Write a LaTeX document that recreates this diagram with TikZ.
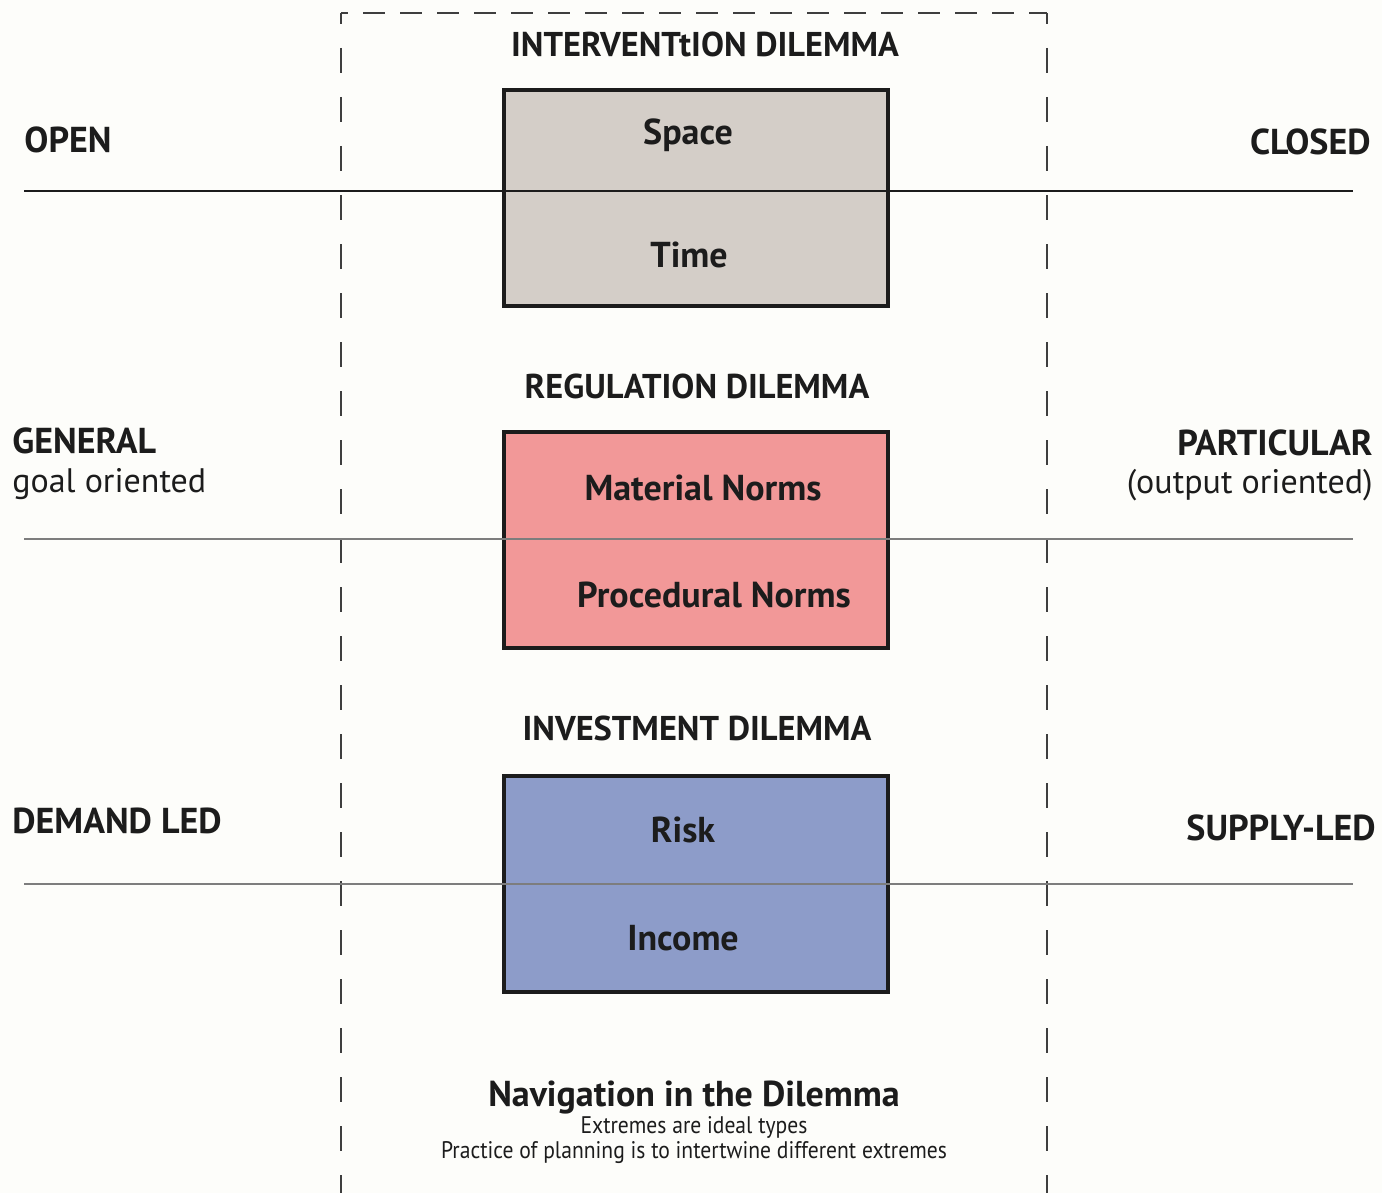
\documentclass[tikz,border=0pt]{standalone}
\usepackage{fontspec}
\setmainfont{PT Sans}
\newfontfamily\narrowfont[FakeStretch=0.9]{PT Sans}
\usepackage{xcolor}
\definecolor{paper}{RGB}{253,253,250}
\definecolor{ink}{RGB}{28,28,28}
\definecolor{spacegrey}{RGB}{212,206,200}
\definecolor{normpink}{RGB}{242,152,152}
\definecolor{riskblue}{RGB}{141,156,201}
\definecolor{rulegrey}{RGB}{125,125,125}
\tikzset{
  every node/.style = {font=\fontsize{17}{20}\selectfont, text=ink, inner sep=0pt}
}
\tikzset{
  heading/.style = {font=\bfseries\fontsize{17.2}{20}\selectfont, anchor=base}
}
\tikzset{
  side label/.style = {font=\bfseries\fontsize{18}{21}\selectfont}
}
\tikzset{
  dilemma box/.style = {draw=ink, line width=2pt, minimum width=192pt, minimum height=108pt}
}
\tikzset{
  box item/.style = {font=\bfseries\fontsize{18}{21}\selectfont, anchor=base}
}
\tikzset{
  frame dash/.style = {draw=ink!85, line width=1.4pt}
}
\newcommand{\divider}[3]{
  \draw[#3] (24,#1) coordinate (#2-l) -- (1353,#1) coordinate (#2-r);
}

\begin{document}
\begin{tikzpicture}[x=0.5pt, y=-0.5pt]
  \fill[paper] (0,0) rectangle (1382,1193);
  \useasboundingbox (0,0) rectangle (1382,1193);

  % dashed frame
  \draw[frame dash, dash pattern=on 11pt off 7.5pt, dash phase=7.5pt]
    (341,13) coordinate (frame-nw) -- (1047,13) coordinate (frame-ne);
  \draw[frame dash, dash pattern=on 12.5pt off 12pt, dash phase=7pt]
    (frame-nw) -- (341,1193);
  \draw[frame dash, dash pattern=on 12.5pt off 12pt, dash phase=7pt]
    (frame-ne) -- (1047,1193);

  % the three dilemmas
  \node[dilemma box, fill=spacegrey] (intervention) at (696,198) {};
  \node[dilemma box, fill=normpink] (regulation) at (696,539.5) {};
  \node[dilemma box, fill=riskblue] (investment) at (696,883.5) {};

  \divider{191}{open}{ink, line width=0.8pt}
  \divider{539}{general}{rulegrey, line width=1.3pt}
  \divider{884}{demand}{rulegrey, line width=1.3pt}

  \node[heading] (intervention-title) at (705,57) {INTERVENTtION DILEMMA};
  \node[box item] (space) at (688,145) {Space};
  \node[box item] (time) at (689,267) {Time};

  \node[heading] (regulation-title) at (697,398) {REGULATION DILEMMA};
  \node[box item] (material) at (703,500) {Material Norms};
  \node[box item] (procedural) at (714,607) {Procedural Norms};

  \node[heading] (investment-title) at (697,740) {INVESTMENT DILEMMA};
  \node[box item] (risk) at (683,842) {Risk};
  \node[box item] (income) at (683,950) {Income};

  % extremes on either side
  \node[side label, anchor=base west] (open) at (24,153) {OPEN};
  \node[side label, anchor=base east] (closed) at (1371,155) {CLOSED};
  \node[side label, anchor=base west] (general) at (12,453) {GENERAL};
  \node[anchor=base west] (goal) at (12,492) {goal oriented};
  \node[side label, anchor=base east] (particular) at (1373,455) {PARTICULAR};
  \node[anchor=base east] (output) at (1373,493) {(output oriented)};
  \node[side label, anchor=base west] (demand) at (12,833) {DEMAND LED};
  \node[side label, anchor=base east] (supply) at (1376,840) {SUPPLY-LED};

  \node[heading, font=\bfseries\fontsize{18}{21}\selectfont] (navigation) at (694,1106)
    {Navigation in the Dilemma};
  \node[anchor=base, font=\narrowfont\fontsize{12}{14}\selectfont] (ideal) at (694,1133)
    {Extremes are ideal types};
  \node[anchor=base, font=\narrowfont\fontsize{12}{14}\selectfont] (practice) at (694,1158)
    {Practice of planning is to intertwine different extremes};
\end{tikzpicture}
\end{document}
